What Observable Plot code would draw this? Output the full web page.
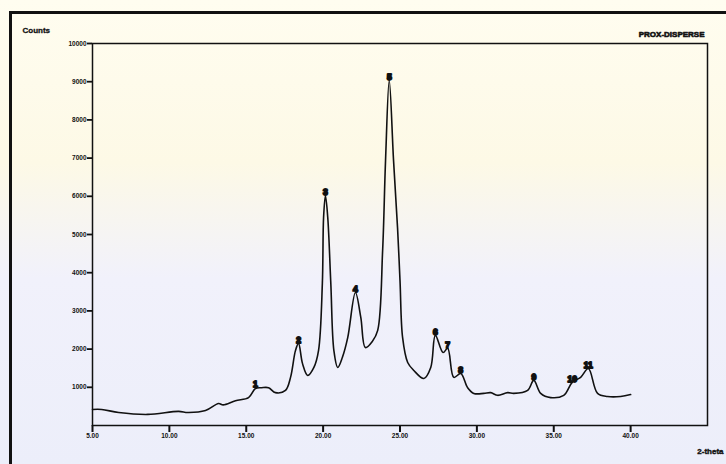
<!DOCTYPE html>
<html>
<head>
<meta charset="utf-8">
<script src="https://cdn.jsdelivr.net/npm/d3@7"></script>
<script src="https://cdn.jsdelivr.net/npm/@observablehq/plot@0.6"></script>
<style>
  html, body { margin: 0; padding: 0; }
  body {
    width: 726px; height: 464px; overflow: hidden;
    background: linear-gradient(180deg, #fffdf0 0%, #fdf9e6 35%, #f1f1fb 60%, #eceefa 100%);
  }
  #wrap { position: relative; width: 726px; height: 464px; }
  #border { position: absolute; left: 9px; top: 11px; width: 717px; height: 453px;
    border-left: 3px solid #111; border-top: 3px solid #111; box-sizing: border-box; }
  #chart { position: absolute; left: 0; top: 0; }
</style>
</head>
<body>
<div id="wrap"><div id="border"></div><div id="chart"></div></div>
<script>
const twoTheta = [5.0, 5.6, 6.7, 8.6, 10.6, 11.2, 12.35, 13.2, 13.5, 14.3, 15.15, 15.6, 16.0, 16.45, 16.9, 17.55, 17.88, 18.2, 18.4, 18.66, 19.0, 19.4, 19.7, 19.95, 20.03, 20.15, 20.3, 20.5, 20.7, 20.95, 21.25, 21.6, 22.1, 22.45, 22.75, 23.2, 23.55, 23.87, 24.06, 24.3, 24.58, 24.84, 25.0, 25.17, 25.5, 25.9, 26.55, 27.0, 27.3, 27.8, 28.1, 28.5, 28.95, 29.4, 29.8, 30.45, 30.9, 31.35, 32.0, 32.4, 33.3, 33.7, 34.15, 34.8, 35.65, 36.2, 36.75, 37.25, 37.85, 38.5, 39.35, 40.0];
const counts = [420, 420, 340, 290, 370, 340, 390, 575, 540, 650, 730, 970, 990, 990, 860, 920, 1260, 1960, 2150, 1620, 1310, 1520, 1960, 3720, 5450, 6020, 5450, 3720, 1960, 1520, 1780, 2300, 3480, 2830, 2040, 2200, 2490, 4580, 6940, 9030, 6940, 5180, 3800, 2300, 1650, 1440, 1230, 1520, 2360, 1910, 2020, 1260, 1360, 990, 840, 840, 860, 790, 860, 840, 920, 1180, 840, 730, 790, 1130, 1260, 1490, 840, 760, 760, 810];

const peakTheta = [15.6, 18.4, 20.15, 22.1, 24.3, 27.3, 28.1, 28.95, 33.7, 36.2, 37.25];
const peakCounts = [990, 2150, 6020, 3480, 9030, 2360, 2020, 1360, 1180, 1130, 1490];
const peakLabels = ["1", "2", "3", "4", "5", "6", "7", "8", "9", "10", "11"];

const xTicks = [5, 10, 15, 20, 25, 30, 35, 40];
const yTicks = [1000, 2000, 3000, 4000, 5000, 6000, 7000, 8000, 9000, 10000];

const pattern = twoTheta.map((t, i) => ({t, c: counts[i]}));
const peaks = peakTheta.map((t, i) => ({t, c: peakCounts[i], label: peakLabels[i]}));

const font = "Liberation Sans, Arial, sans-serif";
const chart = Plot.plot({
  width: 726,
  height: 464,
  marginLeft: 92,
  marginRight: 19,
  marginTop: 43,
  marginBottom: 39,
  style: {background: "transparent", fontFamily: font, color: "#111"},
  x: {domain: [5, 45], ticks: xTicks},
  y: {domain: [0, 10000], ticks: yTicks},
  marks: [
    Plot.frame({stroke: "#111", strokeWidth: 1.5}),
    Plot.axisX({ticks: xTicks, tickSize: 7, tickPadding: 1, tickFormat: d3.format(".2f"),
      fontSize: 6.5, fontWeight: "bold", stroke: "#111", strokeWidth: 2, label: null}),
    Plot.axisY({ticks: yTicks, tickSize: 5, tickPadding: 1, tickFormat: d => String(d),
      fontSize: 6.5, fontWeight: "bold", stroke: "#111", strokeWidth: 1.8, label: null}),
    Plot.line(pattern, {x: "t", y: "c", stroke: "#111", strokeWidth: 1.6, curve: "catmull-rom"}),
    Plot.text(peaks, {x: "t", y: "c", text: "label", dy: -3, fontSize: 8.5, fontWeight: "bold",
      fill: "#111", stroke: "#111", strokeWidth: 1.8}),
    Plot.text(["Counts"], {frameAnchor: "top-left", text: d => d, dx: -70, dy: -16, textAnchor: "start",
      fontSize: 8, fontWeight: "bold", fill: "#111", stroke: "#111", strokeWidth: 0.3}),
    Plot.text(["PROX-DISPERSE"], {frameAnchor: "top-right", text: d => d, dx: -3, dy: -12, textAnchor: "end",
      fontSize: 8, fontWeight: "bold", fill: "#111", stroke: "#111", strokeWidth: 0.6}),
    Plot.text(["2-theta"], {frameAnchor: "bottom-right", text: d => d, dx: 16, dy: 28, textAnchor: "end",
      fontSize: 8, fontWeight: "bold", fill: "#111", stroke: "#111", strokeWidth: 0.4})
  ]
});
document.getElementById("chart").appendChild(chart);
</script>
</body>
</html>
